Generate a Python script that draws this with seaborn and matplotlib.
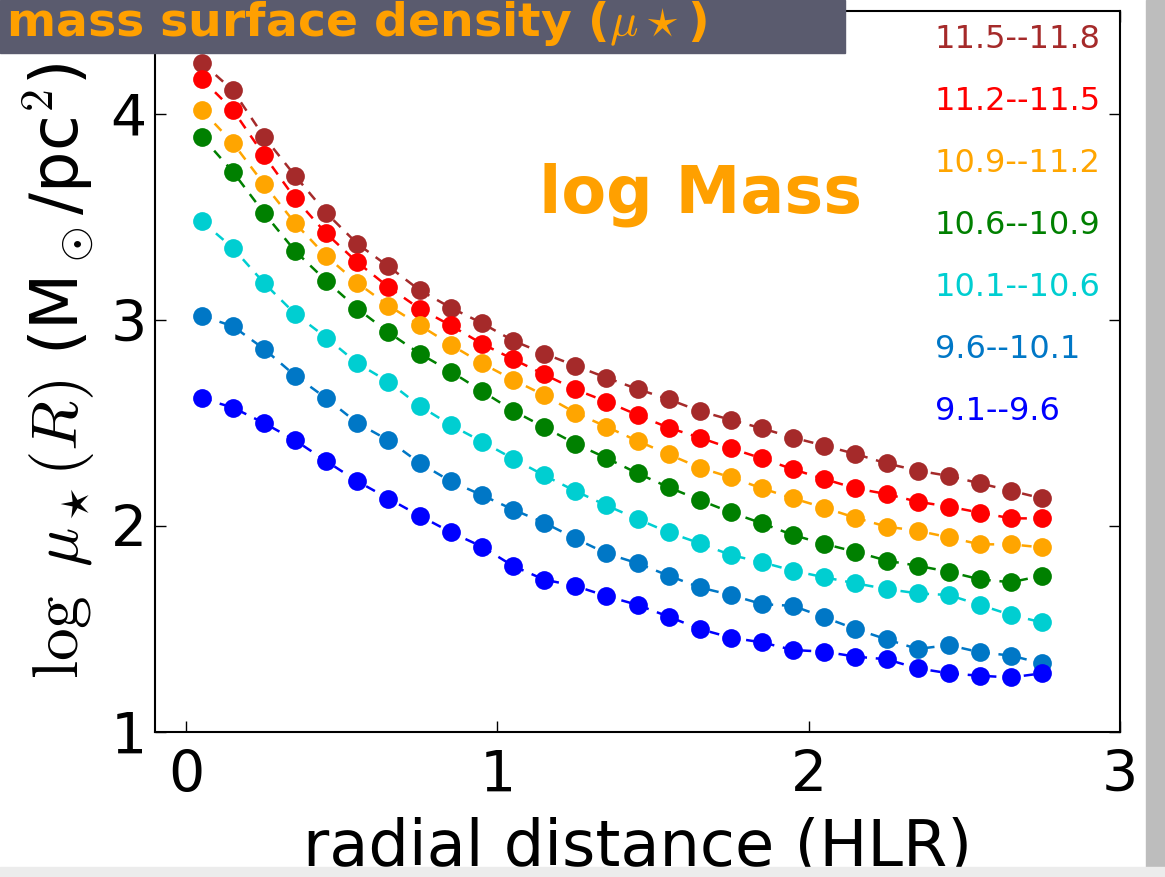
import matplotlib
matplotlib.use("Agg")
import matplotlib.pyplot as plt
import seaborn as sns
import pandas as pd
from matplotlib.patches import Rectangle

# ---------------- data ----------------
radius = [0.05, 0.15, 0.25, 0.35, 0.45, 0.55, 0.65, 0.75, 0.85, 0.95,
          1.05, 1.15, 1.25, 1.35, 1.45, 1.55, 1.65, 1.75, 1.85, 1.95,
          2.05, 2.15, 2.25, 2.35, 2.45, 2.55, 2.65, 2.75]

mass_bins = ["11.5--11.8", "11.2--11.5", "10.9--11.2", "10.6--10.9",
             "10.1--10.6", "9.6--10.1", "9.1--9.6"]
bin_colors = ["#a52a2a", "#ff0000", "#ffa500", "#008000",
              "#00ced1", "#0077c6", "#0000ff"]

mu_115_118 = [4.25, 4.115, 3.89, 3.70, 3.52, 3.37, 3.26, 3.145, 3.06, 2.985,
              2.90, 2.837, 2.778, 2.72, 2.665, 2.615, 2.558, 2.515, 2.474, 2.429,
              2.39, 2.35, 2.304, 2.269, 2.243, 2.207, 2.171, 2.134]
mu_112_115 = [4.17, 4.02, 3.80, 3.59, 3.42, 3.28, 3.16, 3.055, 2.974, 2.885,
              2.81, 2.736, 2.663, 2.604, 2.539, 2.477, 2.429, 2.377, 2.328, 2.275,
              2.228, 2.183, 2.155, 2.118, 2.094, 2.065, 2.037, 2.037]
mu_109_112 = [4.02, 3.86, 3.66, 3.47, 3.31, 3.18, 3.07, 2.975, 2.88, 2.79,
              2.71, 2.635, 2.55, 2.482, 2.413, 2.348, 2.283, 2.236, 2.183, 2.134,
              2.089, 2.04, 1.997, 1.977, 1.945, 1.911, 1.911, 1.896]
mu_106_109 = [3.89, 3.72, 3.52, 3.335, 3.19, 3.055, 2.94, 2.837, 2.75, 2.655,
              2.56, 2.48, 2.40, 2.33, 2.256, 2.188, 2.126, 2.066, 2.013, 1.956,
              1.913, 1.875, 1.832, 1.807, 1.778, 1.741, 1.727, 1.759]
mu_101_106 = [3.48, 3.35, 3.18, 3.03, 2.915, 2.79, 2.70, 2.583, 2.49, 2.41,
              2.327, 2.246, 2.17, 2.10, 2.034, 1.969, 1.916, 1.859, 1.824, 1.783,
              1.751, 1.722, 1.694, 1.673, 1.665, 1.617, 1.568, 1.532]
mu_96_101 = [3.02, 2.97, 2.86, 2.73, 2.62, 2.50, 2.416, 2.306, 2.217, 2.15,
             2.08, 2.016, 1.94, 1.867, 1.819, 1.759, 1.702, 1.665, 1.621, 1.612,
             1.557, 1.50, 1.45, 1.403, 1.422, 1.387, 1.371, 1.333]
mu_91_96 = [2.62, 2.575, 2.50, 2.416, 2.315, 2.217, 2.133, 2.05, 1.97, 1.90,
            1.806, 1.74, 1.709, 1.66, 1.617, 1.56, 1.50, 1.458, 1.435, 1.398,
            1.39, 1.366, 1.353, 1.309, 1.285, 1.273, 1.265, 1.285]

series = [mu_115_118, mu_112_115, mu_109_112, mu_106_109,
          mu_101_106, mu_96_101, mu_91_96]

x_ticks = [0, 1, 2, 3]
y_ticks = [1, 2, 3, 4]

# ---------------- figure ----------------
sns.set_style("ticks")
plt.rcParams['font.family'] = ['DejaVu Sans']
plt.rcParams['mathtext.fontset'] = 'cm'
plt.rcParams['mathtext.rm'] = 'DejaVu Sans'
plt.rcParams['text.color'] = 'black'
plt.rcParams['axes.labelcolor'] = 'black'

fig = plt.figure(figsize=(11.65, 8.77), dpi=100)
W, H = 1165, 877
ax = fig.add_axes([155 / W, 1 - 732 / H, (1120 - 155) / W, (732 - 11) / H])

for vals, col in zip(series, bin_colors):
    df = pd.DataFrame({"r": radius, "mu": vals})
    sns.lineplot(data=df, x="r", y="mu", ax=ax, color=col, sort=False,
                 estimator=None, marker="o", markersize=13.5,
                 markeredgewidth=0, linewidth=1.8, linestyle=(0, (4, 3.5)))

ax.set_xlim(-0.1, 3.0)
ax.set_ylim(1.0, 4.5)
ax.set_xticks(x_ticks)
ax.set_yticks(y_ticks)
ax.set_xticklabels([str(t) for t in x_ticks])
ax.set_yticklabels([str(t) for t in y_ticks])
ax.tick_params(direction="in", length=8, width=1, labelsize=41,
               top=True, right=True, colors="black")
ax.tick_params(axis="x", pad=12)
ax.tick_params(axis="y", pad=6)
for s in ax.spines.values():
    s.set_linewidth(1.5)
    s.set_color("black")

ax.set_xlabel("radial distance (HLR)", fontsize=46, color="black")
ax.xaxis.set_label_coords(0.5, -0.186)
ax.xaxis.label.set_va("baseline")
ax.set_ylabel(r"$\log\ \mu_\star(R)$ (M$_\odot$/pc$^2$)", fontsize=47,
              color="black")
ax.yaxis.set_label_coords(-0.1, 0.5)
ax.yaxis.label.set_va("center")

# mass-bin labels
y_frac = [0.960, 0.874, 0.788, 0.702, 0.616, 0.531, 0.445]
for lab, col, yf in zip(mass_bins, bin_colors, y_frac):
    ax.text(0.808, yf, lab, color=col, fontsize=23, transform=ax.transAxes,
            ha="left", va="center")

ax.text(0.565, 0.745, "log Mass", color="#ffa000", fontsize=47,
        fontweight="bold", transform=ax.transAxes, ha="center", va="center")

# title banner
fig.patches.append(Rectangle((0, 1 - 53 / H), 845 / W, 53 / H,
                             transform=fig.transFigure, color="#5a5b6e",
                             zorder=5))
fig.text(6 / W, 1 - 36 / H, r"mass surface density ($\mu\star$)",
         color="#ffa000", fontsize=34, fontweight="bold",
         ha="left", va="baseline", zorder=6)

# torn paper edge on the right and light bottom strip
fig.patches.append(Rectangle((1146 / W, 0), 19 / W, 1,
                             transform=fig.transFigure, color="#bdbdbd",
                             zorder=0))
fig.patches.append(Rectangle((0, 0), 1, 10 / H, transform=fig.transFigure,
                             color="#ececec", zorder=0))

fig.savefig("out.png", dpi=100)
